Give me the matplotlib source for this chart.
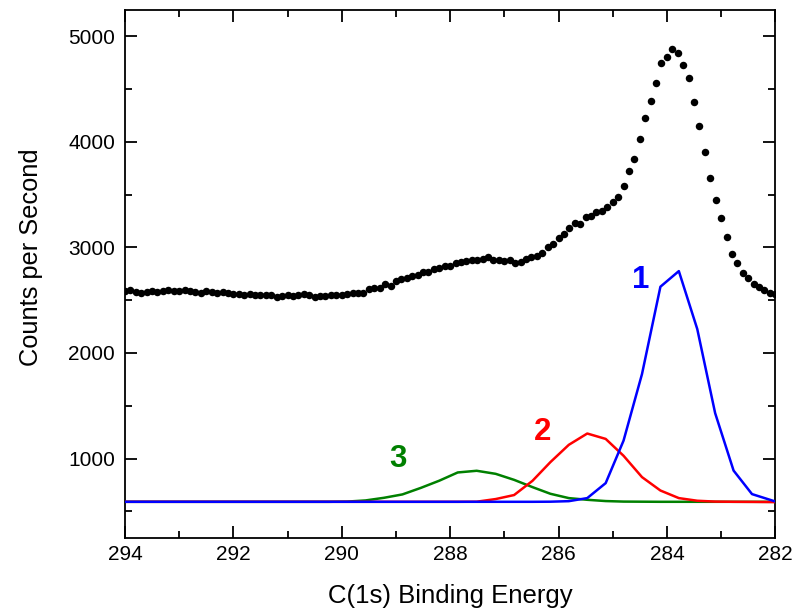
import numpy as np
import matplotlib
matplotlib.use("Agg")
import matplotlib.pyplot as plt
from matplotlib.ticker import MultipleLocator

plt.rcParams['font.family'] = ['Liberation Sans', 'DejaVu Sans']

# Measured C(1s) spectrum, 0.1 eV steps from 294.0 down to 282.0 eV
E_START, E_STOP, N_POINTS = 294.0, 282.0, 121
counts = [
    2590, 2595, 2580, 2572, 2578, 2585, 2580, 2590, 2595, 2588,
    2592, 2598, 2585, 2575, 2568, 2588, 2580, 2570, 2575, 2565,
    2560, 2562, 2552, 2555, 2548, 2550, 2545, 2548, 2535, 2540,
    2545, 2542, 2548, 2563, 2545, 2535, 2540, 2538, 2545, 2548,
    2552,
    2558, 2568, 2572, 2570, 2610, 2612, 2615, 2650, 2638, 2680,
    2700, 2712, 2728, 2740, 2765, 2770, 2795, 2805, 2828, 2820,
    2850, 2862, 2875, 2880, 2882, 2892, 2905, 2885, 2878, 2868,
    2885, 2855, 2860, 2890, 2905, 2918, 2950, 3005, 3035, 3090,
    3130, 3187, 3234, 3224, 3285, 3297, 3332, 3344, 3382, 3427,
    3480, 3581, 3723, 3839, 4029, 4231, 4385, 4558, 4745, 4808,
    4880, 4839, 4732, 4609, 4382, 4155, 3906, 3657, 3451, 3275,
    3098, 2938, 2852, 2761, 2708, 2651, 2623, 2594, 2571, 2556,
]
energy = np.linspace(E_START, E_STOP, N_POINTS)

# Fitted component curves (energy, counts) on a shared coarse grid
comp_energy = [294.0, 290.24, 289.90, 289.56, 289.22, 288.88, 288.54, 288.20,
               287.86, 287.51, 287.16, 286.82, 286.48, 286.15, 285.81,
               285.47, 285.13, 284.80, 284.46, 284.12, 283.78, 283.44,
               283.11, 282.77, 282.43, 282.0]
peak1 = [590, 590, 590, 590, 590, 590, 590, 590,
         590, 590, 590, 590, 590, 591, 596,
         625, 767, 1170, 1800, 2628, 2776, 2227,
         1430, 886, 663, 593]
peak2 = [590, 590, 590, 590, 590, 590, 590, 590,
         590, 591, 616, 654, 789, 966, 1130,
         1237, 1186, 1026, 824, 697, 625, 600,
         592, 590, 589, 587]
peak3 = [590, 590, 592, 603, 628, 660, 722, 790,
         868, 884, 855, 798, 729, 666, 625,
         609, 597, 592, 591, 590, 590, 590,
         590, 590, 590, 590]

fig = plt.figure(figsize=(7.96, 6.11), dpi=100)
ax = fig.add_axes([0.157, 0.12, 0.817, 0.8636])

ax.plot(comp_energy, peak3, color='#008000', lw=1.8, zorder=2)
ax.plot(comp_energy, peak2, color='#ff0000', lw=1.8, zorder=3)
ax.plot(comp_energy, peak1, color='#0000ff', lw=1.8, zorder=4)
ax.plot(energy, counts, 'o', color='black', ms=5.4, mec='black', mew=0, zorder=5)

ax.text(284.49, 2691, '1', color='#0000ff', fontsize=22.5, fontweight='bold',
        ha='center', va='center')
ax.text(286.29, 1253, '2', color='#ff0000', fontsize=22.5, fontweight='bold',
        ha='center', va='center')
ax.text(288.97, 997, '3', color='#008000', fontsize=22.5, fontweight='bold',
        ha='center', va='center')

ax.set_xlim(294, 282)
ax.set_ylim(250, 5250)
ax.xaxis.set_major_locator(MultipleLocator(2))
ax.xaxis.set_minor_locator(MultipleLocator(1))
ax.yaxis.set_major_locator(MultipleLocator(1000))
ax.yaxis.set_minor_locator(MultipleLocator(500))
ax.tick_params(which='both', direction='in', top=True, right=True, width=1.3)
ax.tick_params(which='major', length=8.5, labelsize=15)
ax.tick_params(axis='x', which='major', pad=5)
ax.tick_params(axis='y', which='major', pad=7)
ax.tick_params(which='minor', length=5)
for s in ax.spines.values():
    s.set_linewidth(1.3)

ax.set_xlabel('C(1s) Binding Energy', fontsize=18.5, labelpad=15)
ax.set_ylabel('Counts per Second', fontsize=18.3)
ax.yaxis.set_label_coords(-0.126, 0.531)

fig.savefig('out.png', dpi=100)
